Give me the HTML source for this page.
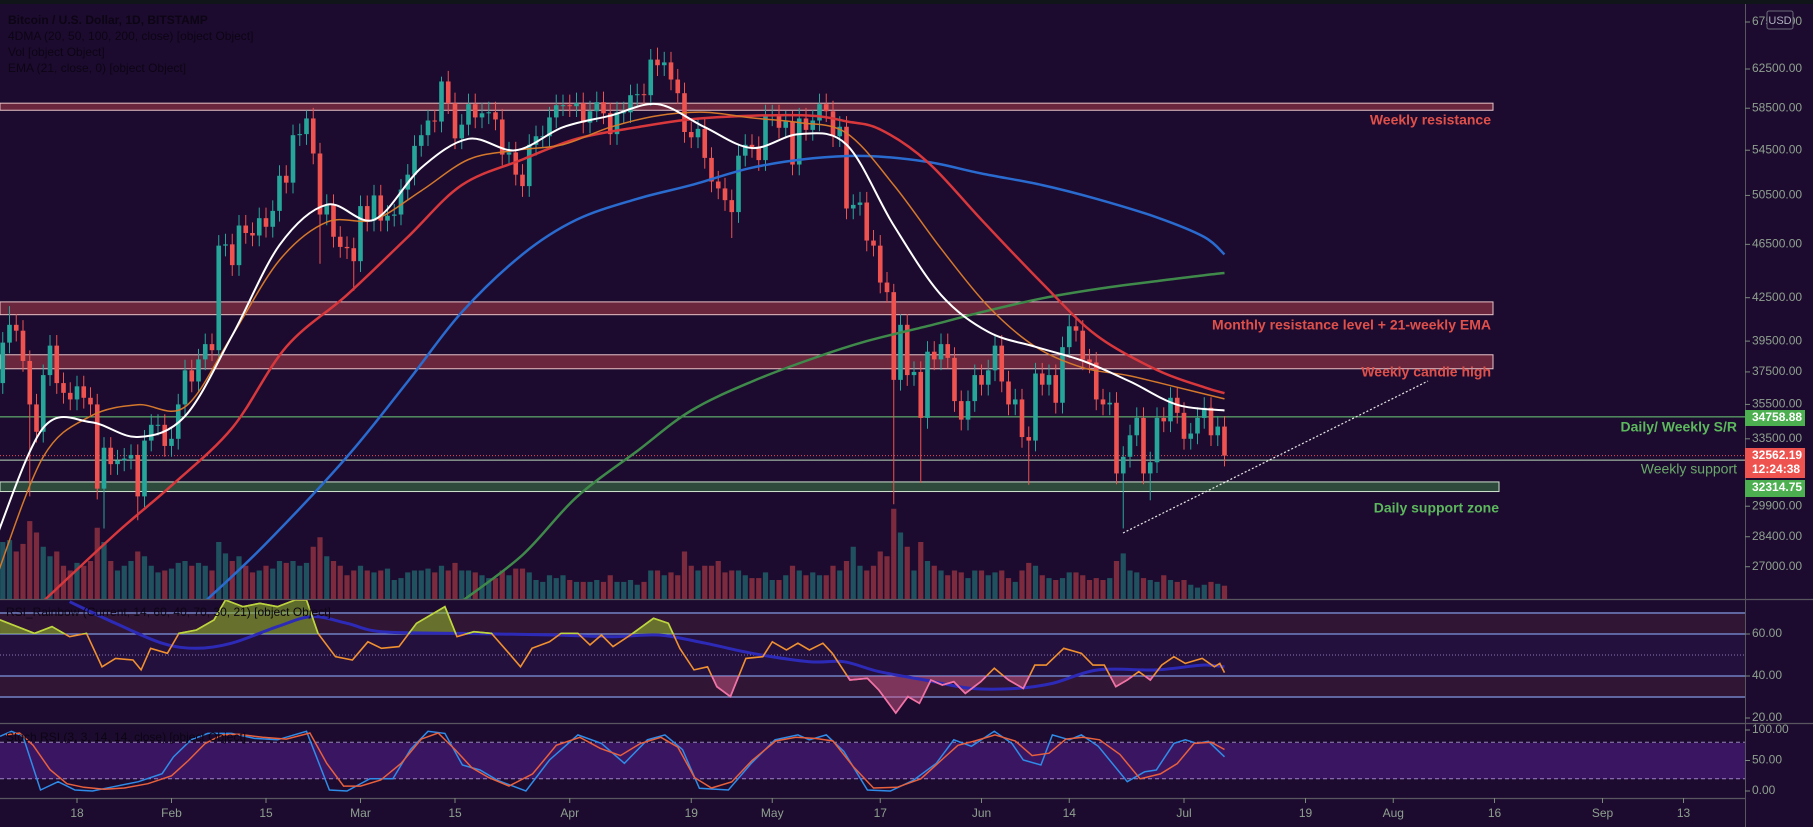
<!DOCTYPE html>
<html><head><meta charset="utf-8">
<style>
html,body{margin:0;padding:0;background:#1c0b2f;}
svg{display:block;font-family:"Liberation Sans",sans-serif;}
</style></head>
<body>
<svg id="chart" width="1813" height="827" viewBox="0 0 1813 827" xmlns="http://www.w3.org/2000/svg">
<rect x="0" y="0" width="1813" height="827" fill="#1c0b2f"/>
<rect x="0" y="0" width="1813" height="4" fill="#0f1518"/>
<g id="rsiBg">
<rect x="0" y="612" width="1745" height="22" fill="#301634"/>
<rect x="0" y="634" width="1745" height="42" fill="#24103c"/>
<rect x="0" y="676" width="1745" height="22" fill="#301634"/>
</g>
<g>
<rect x="0" y="743" width="1745" height="36" fill="#3a1562"/>
</g>
<g id="boxes"></g>
<g id="main"></g>
<g id="rsi"></g>
<g id="stoch"></g>
<g id="axes"></g>
</svg>
<script>
// ===== DATA =====
const closes = [
36800,39400,40600,40200,38200,35500,33900,37300,39200,36800,36200,35800,36600,35900,35500,30800,33000,32100,32300,32400,32600,30400,33400,34300,34300,33100,
33500,35500,37600,36900,38300,39300,38900,46400,46500,44900,48000,47400,47200,48600,47900,49200,52200,51600,55900,56000,57500,54200,48900,49700,47100,46300,46200,45200,
49600,48400,50500,48400,48800,48900,51000,52300,54900,55900,57300,57200,61200,59000,55600,56900,58900,57600,58000,58100,57400,54100,54300,52300,51300,55000,55800,55800,57600,58800,58800,
58700,59000,57100,58200,59100,58000,56000,58100,58100,59800,59900,59800,63500,62900,63200,61400,60000,56200,55700,56500,53800,51700,51100,50100,49100,54000,55000,54800,53600,57800,
57800,56600,57200,53200,57500,56400,57300,58900,58200,55800,56700,49400,49700,49900,46800,46400,43600,42900,37000,40600,37300,37500,34700,38800,38300,39300,38400,35700,34600,35700,37300,
36700,37600,39200,36900,35500,35800,33600,33400,37400,36700,37300,35600,39100,40500,40200,38300,38100,35800,35500,35600,31600,32500,33700,34700,31600,32200,34700,34500,35900,35000,
33500,33800,34700,35300,33700,34200,32562];
const firstOpen = 34000;
const volumes = [
55,60,62,50,58,82,70,55,45,50,35,30,38,35,40,75,60,40,30,35,40,50,45,35,28,30,
32,38,40,35,38,35,30,60,48,40,45,35,28,30,35,32,40,38,40,35,38,55,65,45,40,35,25,30,
35,30,28,30,32,20,22,28,30,30,32,28,35,30,38,30,30,28,25,22,22,30,25,32,32,28,20,18,25,22,25,
20,18,18,18,20,18,25,18,18,20,15,18,30,30,25,28,25,50,35,30,35,35,40,28,30,30,25,22,22,28,
20,20,25,35,30,25,28,25,25,35,30,40,55,35,30,35,50,45,95,70,55,30,60,40,35,30,25,30,28,22,30,
30,25,28,30,22,18,30,38,35,25,22,20,22,28,28,25,20,22,20,22,40,48,30,28,22,20,18,25,20,18,
20,15,12,15,18,16,14];
const lowDays = [5,16,21,48,53,109,133,137,153,167,171];
const lowVals = [30400,28800,29200,45000,43000,47000,30000,31100,31000,28800,30200];
const highDays = [2,46,66,98,133,159];
const highVals = [41900,58300,61700,64800,43500,41300];

const whiteDays = [0,7,14,21,28,35,42,49,56,63,70,77,84,91,98,105,112,119,126,133,140,147,154,161,168,175,182];
const whiteVals = [28350,34130,34460,33600,34800,39890,46440,49720,48470,52920,55560,54490,56660,57770,58910,56660,54700,56000,55020,48000,42700,40120,39120,38210,36900,35480,35140];
const orangeDays = whiteDays;
const orangeVals = [26480,32500,34800,35480,35350,39890,45280,48280,48470,50900,53650,54490,55020,56660,57770,58110,57550,57100,56100,51390,46170,41880,39120,37770,37250,36540,35830];
const redDays = [7,18,26,35,43,52,61,69,78,86,95,103,112,121,126,131,138,146,155,163,172,179,182];
const redVals = [25470,28630,30960,34130,39120,42700,47080,51390,53650,55560,56660,57430,57770,57770,57210,56440,53440,48470,43540,39890,37620,36540,36180];
const blueDays = [31,40,52,61,69,78,86,95,103,112,121,129,138,146,155,163,172,179,182];
const blueVals = [25470,28080,32500,36900,41470,45720,48470,50210,51390,52920,53760,53970,53440,52400,51390,50210,48660,47080,45720];
const greenDays = [69,78,86,95,103,112,121,129,138,146,155,163,172,179,182];
const greenVals = [25470,27540,30360,32820,35140,36900,38360,39500,40510,41470,42460,43120,43710,44140,44310];

const rsiDays = [0.6,5.7,8.3,10.9,13.4,15.7,17.7,20.3,21.5,22.9,25.4,27.1,29.7,32.3,34,36.6,39.1,41.7,44.3,46,47.7,50.3,52.8,55.1,57.1,59.7,62.3,64.8,66.5,68.3,70.8,73.4,76,77.7,79.4,82,83.7,86.2,88,89.7,91.4,94,97.4,99.6,101.3,103.4,105.4,106.8,108.8,111.1,113.6,115,117.1,118.8,120.5,122.5,123.9,126.5,129.1,130.8,133.3,135.1,136.8,138.5,140.2,141.9,143.6,145.9,147.9,150,152.2,153.9,155.6,158.2,160.8,162.5,164.2,165.9,167.6,169.3,171,172.7,174.5,176.2,178.7,180.5,181.3,182];
const rsiVals = [66.7,60.3,63.5,58.7,60.3,44.4,48.4,47.6,42.9,53.2,50.8,60.3,61.9,66.7,76.2,73,74.6,73,76.2,76.2,60.3,49.2,47.6,56.3,53.2,54,65.1,69.8,73,58.7,61.1,60.3,50.8,44.4,53.2,56.3,60.3,60.3,54.8,59.5,54,59.5,67.5,65.1,53.2,42.9,44.4,34.9,30.2,48.4,49.2,56.3,52.4,55.6,52.4,55.6,50.8,38.1,38.9,33.3,22.4,30.2,27,38.1,35.7,37.3,31.7,37.3,43.7,38.1,34.1,45.2,45.2,53.2,50.8,45.2,45.2,34.9,38.1,42.1,38.1,45.2,49.2,46,48.4,44.4,46,41.6];
const rsiMaDays = [10.9,17.7,24.6,29.7,34.9,41.7,46.8,52,57.1,69.1,82.8,91.4,98.2,105.1,112,120.5,125.6,130.8,137.6,144.5,151.3,156.5,163.3,171.9,178.7,182];
const rsiMaVals = [75.4,65.1,55.6,53.2,55.6,63.5,68.3,65.1,61.1,60.3,59.5,58.7,59.5,55.6,50.8,46.8,46.8,42.1,38.1,34.1,34.1,36.5,42.9,42.9,45.2,44.4];

const kDays = [0.6,2.3,4,6.6,9.2,11.7,14.3,17.7,21.1,24.6,26.3,28.9,31.4,34.9,38.3,41.7,46,49.4,52,55.4,58.8,61.4,64,66.5,69.1,71.7,74.3,78.5,82,86.2,89.7,93.1,96.5,99.1,101.7,104.2,108.5,111.9,115.4,118.8,120.5,123,125.6,129.1,132.5,135.9,139.3,141.9,144.5,147.9,150.5,152.2,154.8,156.5,159,160.8,163.3,167.6,170.2,171.9,174.5,176.2,177.9,179.6,182];
const kVals = [89.6,97.8,89.6,1.6,15.3,1.6,0,7.7,15.3,28.4,56,84,94.5,94.5,86.3,84,97.8,1.6,0,20.2,20.2,67.8,97.8,94.5,42.6,34.4,17.5,0,50.8,92,78.1,45.4,84,92,67.8,4.4,1.6,45.4,84,92,84,92,65,1.6,0,17.5,45.4,84,73.2,97.8,78.1,50.8,42.6,92,84,92,73.2,15.3,31.7,34.4,78.1,84,78.1,81.4,56];
const dDays = [1.5,3.5,5.5,8,10.5,13,16,19,22.5,26,28.5,31,33.5,36,39.5,43,46.5,49,51.5,54,57,60,63,65.5,68,70.5,73,76,79.5,83,86.5,89.5,92.5,95.5,98.5,101,103.5,106,109,112,115.5,118.5,121.5,124,127,130,133.5,137,140,142.5,145,148,151,153.5,156,158.5,161,163.5,166.5,169.5,172.5,175,177.5,180,182];
const dVals = [92,95,75,35,12,6,3,5,12,25,50,78,92,93,88,85,95,45,8,8,18,45,85,95,68,38,22,8,28,75,88,70,58,78,88,72,22,5,15,50,82,88,86,82,40,5,6,20,50,75,82,92,82,58,62,85,88,84,60,20,28,45,78,80,68];

const priceTicks = [62500,58500,54500,50500,46500,42500,39500,37500,35500,33500,29900,28400,27000];
const dateTickDays = [12,26,40,54,68,85,103,115,131,146,159,176,194,207,222,238,250];
const dateTickLabels = ["18","Feb","15","Mar","15","Apr","19","May","17","Jun","14","Jul","19","Aug","16","Sep","13"];

// ===== SCALES =====
const NS = "http://www.w3.org/2000/svg";
const AXIS_X = 1745;
function xOf(d){ return -4 + 6.75*d; }
function yP(p){ return 69 + (Math.log(62500) - Math.log(p))*593; }
function yR(v){ return 676 - (v-40)*2.1; }
function yS(v){ return 791 - v*0.61; }
function mk(tag, attrs, parent){
  const el = document.createElementNS(NS, tag);
  for (const k in attrs) el.setAttribute(k, attrs[k]);
  parent.appendChild(el);
  return el;
}
function smooth(pts){
  let d = "M"+pts[0][0].toFixed(1)+","+pts[0][1].toFixed(1);
  for (let i=0;i<pts.length-1;i++){
    const p0=pts[Math.max(0,i-1)], p1=pts[i], p2=pts[i+1], p3=pts[Math.min(pts.length-1,i+2)];
    const c1x=p1[0]+(p2[0]-p0[0])/6, c1y=p1[1]+(p2[1]-p0[1])/6;
    const c2x=p2[0]-(p3[0]-p1[0])/6, c2y=p2[1]-(p3[1]-p1[1])/6;
    d+=" C"+c1x.toFixed(1)+","+c1y.toFixed(1)+" "+c2x.toFixed(1)+","+c2y.toFixed(1)+" "+p2[0].toFixed(1)+","+p2[1].toFixed(1);
  }
  return d;
}
function poly(pts){ return "M"+pts.map(p=>p[0].toFixed(1)+","+p[1].toFixed(1)).join(" L"); }

const svg = document.getElementById("chart");
const defs = mk("defs", {}, svg);
const cp = mk("clipPath", {id:"mainClip"}, defs);
mk("rect", {x:0,y:4,width:AXIS_X,height:595}, cp);
const cpHi = mk("clipPath", {id:"rsiHi"}, defs);
mk("rect", {x:0,y:590,width:AXIS_X,height:44}, cpHi);
const cpLo = mk("clipPath", {id:"rsiLo"}, defs);
mk("rect", {x:0,y:676,width:AXIS_X,height:47}, cpLo);

// ===== BOXES / LEVELS =====
const boxes = document.getElementById("boxes");
function box(name, y1, y2, x2, fill, stroke){
  const r = mk("rect", {x:0, y:y1, width:x2, height:y2-y1, fill:fill, stroke:stroke, "stroke-width":1}, boxes);
  
  
}
box("weekly-resistance-box", yP(59000), yP(58300), 1493, "rgba(200,70,80,0.45)", "#e9c3c8");
box("monthly-resistance-box", yP(42200), yP(41300), 1493, "rgba(200,70,80,0.45)", "#e9c3c8");
box("weekly-candle-high-box", yP(38600), yP(37700), 1493, "rgba(200,70,80,0.45)", "#e9c3c8");
box("daily-support-zone-box", yP(31150), yP(30650), 1499, "#2d4a3c", "#cfe3cf");

const sr = mk("line", {x1:0, x2:AXIS_X, y1:yP(34758.88), y2:yP(34758.88), stroke:"#6fcf7a", "stroke-width":1}, boxes);


const ws = mk("line", {x1:0, x2:AXIS_X, y1:yP(32314.75), y2:yP(32314.75), stroke:"#b9d9b9", "stroke-width":1}, boxes);


const pl = mk("line", {x1:0, x2:AXIS_X, y1:yP(32562.19), y2:yP(32562.19), stroke:"#e0505a", "stroke-width":1, "stroke-dasharray":"1,2"}, boxes);



// ===== MAIN PANE =====
const main = document.getElementById("main");
main.setAttribute("clip-path","url(#mainClip)");
const volG = mk("g", {}, main);


const candG = mk("g", {}, main);


for (let i=0;i<closes.length;i++){
  const o = i===0 ? firstOpen : closes[i-1];
  const c = closes[i];
  const up = c >= o;
  let hi = Math.max(o,c)*1.018, lo = Math.min(o,c)*0.982;
  const li = lowDays.indexOf(i); if (li>=0) lo = lowVals[li];
  const hiI = highDays.indexOf(i); if (hiI>=0) hi = highVals[hiI];
  const x = xOf(i);
  const col = up ? "#26a69a" : "#ef5350";
  const vh = volumes[i]*0.95;
  const vb = mk("rect", {x:x-2.6, y:599-vh, width:5.2, height:vh, fill: up ? "rgba(38,166,154,0.45)" : "rgba(239,83,80,0.45)"}, volG);
  
  
  const w = mk("line", {x1:x, x2:x, y1:yP(hi), y2:yP(lo), stroke:col, "stroke-width":1}, candG);
  
  
  const top = yP(Math.max(o,c)), bot = yP(Math.min(o,c));
  const b = mk("rect", {x:x-2.3, y:top, width:4.6, height:Math.max(1,bot-top), fill:col}, candG);
  
  
}
function maLine(name, days, vals, color, width){
  const pts = days.map((d,i)=>[xOf(d), yP(vals[i])]);
  const p = mk("path", {d:smooth(pts), fill:"none", stroke:color, "stroke-width":width}, main);
  
  
}
maLine("ma-green", greenDays, greenVals, "#3f8a4a", 2.5);
maLine("ma-blue", blueDays, blueVals, "#2a6bd0", 2.5);
maLine("ma-red", redDays, redVals, "#d8383c", 2.5);
maLine("ma-orange", orangeDays, orangeVals, "#d4782c", 1.5);
maLine("ma-white", whiteDays, whiteVals, "#ffffff", 2);

const tl = mk("line", {x1:1123, y1:533, x2:1428, y2:381, stroke:"#e8e8e8", "stroke-width":1.2, "stroke-dasharray":"2,2"}, svg);



// labels
function label(name, txt, x, y, color, weight){
  const t = mk("text", {x:x, y:y, fill:color, "font-size":14, "font-weight":weight, "text-anchor":"end", "dominant-baseline":"middle"}, svg);
  t.textContent = txt;
  
  
}
label("weekly-resistance-label", "Weekly resistance", 1491, 121, "#e0504a", "bold");
label("monthly-resistance-label", "Monthly resistance level + 21-weekly EMA", 1491, 326, "#e0504a", "bold");
label("weekly-candle-high-label", "Weekly candle high", 1491, 373, "#e0504a", "bold");
label("daily-weekly-sr-label", "Daily/ Weekly S/R", 1737, 428, "#5cb85c", "bold");
label("weekly-support-label", "Weekly support", 1737, 470, "#6aa86a", "normal");
label("daily-support-zone-label", "Daily support zone", 1499, 509, "#5cb85c", "bold");

// legend
const leg = ["Bitcoin / U.S. Dollar, 1D, BITSTAMP","4DMA (20, 50, 100, 200, close) [object Object]","Vol [object Object]","EMA (21, close, 0) [object Object]"];
leg.forEach((s,i)=>{
  const t = mk("text", {x:8, y:24+i*16, fill:"#0c0514", "font-size":12, "font-weight": i===0?"bold":"normal"}, svg);
  t.textContent = s;
  
  
});

// ===== RSI =====
const rsi = document.getElementById("rsi");
[[70,"solid"],[60,"solid"],[40,"solid"],[30,"solid"]].forEach(l=>{
  const ln = mk("line", {x1:0,x2:AXIS_X,y1:yR(l[0]),y2:yR(l[0]),stroke:"#7d97e0","stroke-width":1.3}, rsi);
  
  
});
const mid = mk("line", {x1:0,x2:AXIS_X,y1:yR(50),y2:yR(50),stroke:"#8a78b8","stroke-width":1,"stroke-dasharray":"1,2"}, rsi);


const rpts = rsiDays.map((d,i)=>[xOf(d), yR(rsiVals[i])]);
const first = rpts[0][0], last = rpts[rpts.length-1][0];
const hiFill = mk("path", {d: poly(rpts)+" L"+last+","+yR(60)+" L"+first+","+yR(60)+" Z", fill:"rgba(150,190,40,0.55)", "clip-path":"url(#rsiHi)"}, rsi);


const loFill = mk("path", {d: poly(rpts)+" L"+last+","+yR(40)+" L"+first+","+yR(40)+" Z", fill:"rgba(220,90,140,0.45)", "clip-path":"url(#rsiLo)"}, rsi);


const rma = mk("path", {d: smooth(rsiMaDays.map((d,i)=>[xOf(d), yR(rsiMaVals[i])])), fill:"none", stroke:"#2d2ab8", "stroke-width":3}, rsi);


const rl = mk("path", {d: poly(rpts), fill:"none", stroke:"#f09030", "stroke-width":1.6}, rsi);


const rlHi = mk("path", {d: poly(rpts), fill:"none", stroke:"#b8d840", "stroke-width":1.6, "clip-path":"url(#rsiHi)"}, rsi);


const rlLo = mk("path", {d: poly(rpts), fill:"none", stroke:"#f070b0", "stroke-width":1.6, "clip-path":"url(#rsiLo)"}, rsi);


const rt = mk("text", {x:6, y:616, fill:"#0c0514", "font-size":12}, rsi);
rt.textContent = "RSI_Rainbow (Current, 14, 60, 40, 70, 30, 21) [object Object]";



// ===== STOCH =====
const st = document.getElementById("stoch");
[80,20].forEach(v=>{
  const ln = mk("line", {x1:0,x2:AXIS_X,y1:yS(v),y2:yS(v),stroke:"#9a88c0","stroke-width":1,"stroke-dasharray":"4,3"}, st);
  
  
});
const kL = mk("path", {d: poly(kDays.map((d,i)=>[xOf(d), yS(kVals[i])])), fill:"none", stroke:"#2f8ce8", "stroke-width":1.5}, st);


const dL = mk("path", {d: poly(dDays.map((d,i)=>[xOf(d), yS(dVals[i])])), fill:"none", stroke:"#e8603c", "stroke-width":1.5}, st);


const stt = mk("text", {x:6, y:741, fill:"#0c0514", "font-size":12}, st);
stt.textContent = "Stoch RSI (3, 3, 14, 14, close) [object Object]";



// ===== AXES =====
const ax = document.getElementById("axes");
function hline(name,y,x2,color){
  const l = mk("line", {x1:0,x2:x2,y1:y,y2:y,stroke:color,"stroke-width":1.2}, ax);
  
  
}
hline("main-pane-border", 599.5, 1813, "#5a5660");
hline("rsi-pane-border", 723.5, 1813, "#5a5660");
hline("stoch-pane-border", 798.5, 1745, "#5a5660");
const va = mk("line", {x1:AXIS_X+0.5,x2:AXIS_X+0.5,y1:4,y2:827,stroke:"#5a5660","stroke-width":1}, ax);


function tick(name, y, txt){
  const l = mk("line", {x1:AXIS_X, x2:AXIS_X+5, y1:y, y2:y, stroke:"#7a8a7a", "stroke-width":1}, ax);
  
  
  const t = mk("text", {x:1752, y:y, fill:"#8fa08f", "font-size":12, "dominant-baseline":"middle"}, ax);
  t.textContent = txt;
  
  
}
tick("price-tick-top", 22, "67500.00");
priceTicks.forEach(p=>tick("price-tick", yP(p), p.toFixed(2)));
[60,40,20].forEach(v=>tick("rsi-tick", yR(v), v.toFixed(2)));
[100,50,0].forEach(v=>tick("stoch-tick", yS(v), v.toFixed(2)));
function badge(name, y, h, color, lines){
  const r = mk("rect", {x:AXIS_X, y:y, width:60, height:h, fill:color}, ax);
  
  
  lines.forEach((s,i)=>{
    const t = mk("text", {x:1752, y:y+8+i*14, fill:"#ffffff", "font-size":12, "font-weight":"bold", "dominant-baseline":"middle"}, ax);
    t.textContent = s;
    
    
  });
}
badge("sr-price-badge", 410, 16, "#4caf50", ["34758.88"]);
badge("last-price-badge", 448, 30, "#ef5350", ["32562.19","12:24:38"]);
badge("support-price-badge", 480, 17, "#4caf50", ["32314.75"]);
const usd = mk("rect", {x:1767, y:11, width:26, height:18, rx:2, fill:"#1c0b2f", stroke:"#6a6a78"}, ax);


const ut = mk("text", {x:1780, y:21, fill:"#b0b0c0", "font-size":11, "text-anchor":"middle", "dominant-baseline":"middle"}, ax);
ut.textContent = "USD";


dateTickDays.forEach((d,i)=>{
  const x = xOf(d);
  const l = mk("line", {x1:x,x2:x,y1:798,y2:803,stroke:"#7a8a7a","stroke-width":1}, ax);
  
  
  const t = mk("text", {x:x, y:814, fill:"#8fa08f", "font-size":12, "text-anchor":"middle", "dominant-baseline":"middle"}, ax);
  t.textContent = dateTickLabels[i];
  
  
});
</script>
</body></html>
